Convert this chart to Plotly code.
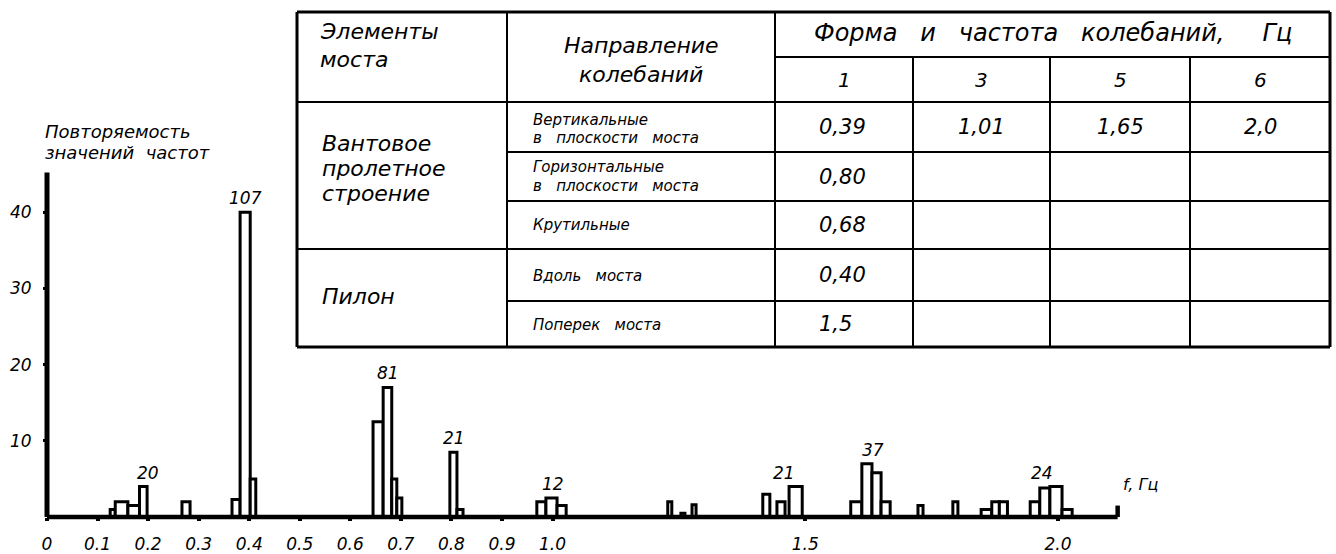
import plotly.graph_objects as go

# ---------------- data ----------------
# frequency histogram: bin edges (Hz) and repeat counts
bin_lo = [0.125, 0.135, 0.160, 0.183, 0.267, 0.366, 0.382, 0.402,
          0.645, 0.665, 0.682, 0.692, 0.797, 0.811, 0.969, 0.987, 1.009,
          1.228, 1.254, 1.276, 1.416, 1.444, 1.468, 1.590, 1.612, 1.632,
          1.650, 1.723, 1.792, 1.848, 1.869, 1.884, 1.945, 1.964, 1.984, 2.008]
bin_hi = [0.135, 0.160, 0.183, 0.198, 0.283, 0.382, 0.402, 0.413,
          0.665, 0.682, 0.692, 0.702, 0.811, 0.823, 0.987, 1.009, 1.027,
          1.236, 1.262, 1.284, 1.430, 1.460, 1.494, 1.612, 1.632, 1.650,
          1.668, 1.733, 1.802, 1.869, 1.884, 1.900, 1.964, 1.984, 2.008, 2.028]
counts = [1, 2, 1.5, 4, 2, 2.3, 40, 5,
          12.5, 17, 5, 2.5, 8.5, 1, 2, 2.5, 1.5,
          2, 0.5, 1.6, 3, 2, 4, 2, 7, 5.8,
          2, 1.5, 2, 1, 2, 2, 2, 3.8, 4, 1]

# number of records in each group of peaks
group_f = [0.2, 0.393, 0.675, 0.805, 1.0, 1.458, 1.635, 1.968]
group_n = [20, 107, 81, 21, 12, 21, 37, 24]

x_tick_vals = [0, 0.1, 0.2, 0.3, 0.4, 0.5, 0.6, 0.7, 0.8, 0.9, 1.0, 1.5, 2.0]
x_tick_text = ["0", "0.1", "0.2", "0.3", "0.4", "0.5", "0.6", "0.7", "0.8",
               "0.9", "1.0", "1.5", "2.0"]
y_tick_vals = [10, 20, 30, 40]
f_axis_end = 2.118
count_axis_end = 45.2

y_title = ["Повторяемость", "значений  частот"]
x_title = "f, Гц"

# table of natural frequencies
head_elements = ["Элементы", "моста"]
head_direction = ["Направление", "колебаний"]
head_modes = "Форма   и   частота   колебаний,     Гц"
mode_numbers = ["1", "3", "5", "6"]
elements = [["Вантовое", "пролетное", "строение"], ["Пилон"]]
directions = [["Вертикальные", "в   плоскости   моста"],
              ["Горизонтальные", "в   плоскости   моста"],
              ["Крутильные"], ["Вдоль   моста"], ["Поперек   моста"]]
freq_rows = [["0,39", "1,01", "1,65", "2,0"],
             ["0,80", "", "", ""],
             ["0,68", "", "", ""],
             ["0,40", "", "", ""],
             ["1,5", "", "", ""]]

# ---------------- layout constants ----------------
W, H = 1336, 554
FONT = "DejaVu Sans"
X0_PX, PX_PER_HZ = 47, 505.5       # f = 0 position and scale
BASE_PX, PX_PER_COUNT = 517, 7.62  # count = 0 position and scale


def px(x):
    return x / W


def py(y):
    return 1 - y / H


def txt(x, y, s, size, anchor="left"):
    return dict(x=px(x), y=py(y), xref="paper", yref="paper", text=s,
                showarrow=False, xanchor=anchor, yanchor="middle",
                font=dict(family=FONT, size=size, color="black", style="italic"))


def hline(x0, x1, y, w=2):
    return dict(type="line", xref="paper", yref="paper", x0=px(x0), x1=px(x1),
                y0=py(y), y1=py(y), line=dict(color="black", width=w))


def vline(x, y0, y1, w=2):
    return dict(type="line", xref="paper", yref="paper", x0=px(x), x1=px(x),
                y0=py(y0), y1=py(y1), line=dict(color="black", width=w))


fig = go.Figure()

centers = [(a + b) / 2 for a, b in zip(bin_lo, bin_hi)]
widths = [b - a for a, b in zip(bin_lo, bin_hi)]
fig.add_trace(go.Bar(
    x=centers, y=counts, width=widths,
    marker=dict(color="white", line=dict(color="black", width=3)),
    hoverinfo="x+y", showlegend=False,
))

shapes = []
# axes drawn as thick strokes, x axis ending with a short upturn
shapes.append(dict(type="line", xref="x", yref="y", x0=0, x1=f_axis_end, y0=0, y1=0,
                   line=dict(color="black", width=4.5)))
shapes.append(dict(type="line", xref="x", yref="y", x0=f_axis_end, x1=f_axis_end,
                   y0=0, y1=1.5, line=dict(color="black", width=4.5)))
shapes.append(dict(type="line", xref="x", yref="y", x0=0, x1=0, y0=0, y1=count_axis_end,
                   line=dict(color="black", width=5)))

# table grid
TL, TR, TT, TB = 297, 1330, 12, 347
col_x = [507, 775, 913, 1050, 1190]
row_y = [102, 152, 201, 249, 301]
SUB_Y = 57
shapes += [hline(TL, TR, TT, 3), hline(TL, TR, TB, 3),
           vline(TL, TT, TB, 3), vline(TR, TT, TB, 3)]
shapes += [vline(col_x[0], TT, TB), vline(col_x[1], TT, TB)]
shapes += [vline(x, SUB_Y, TB) for x in col_x[2:]]
shapes.append(hline(col_x[1], TR, SUB_Y))
shapes.append(hline(TL, TR, row_y[0]))
shapes.append(hline(TL, TR, row_y[3]))
shapes += [hline(col_x[0], TR, y) for y in (row_y[1], row_y[2], row_y[4])]

ann = []
# group totals above the peaks
for f, n in zip(group_f, group_n):
    top = max(c for lo, hi, c in zip(bin_lo, bin_hi, counts) if hi > f - 0.04 and lo < f + 0.04)
    ann.append(dict(x=f, y=top, xref="x", yref="y", text=str(n), showarrow=False,
                    xanchor="center", yanchor="bottom", yshift=2,
                    font=dict(family=FONT, size=17, color="black", style="italic")))

# axis titles
ann.append(txt(43, 131, y_title[0], 18))
ann.append(txt(43, 153, y_title[1], 18))
ann.append(txt(1121, 484, x_title, 16))

# table text
ann.append(txt(318, 31, head_elements[0], 22))
ann.append(txt(318, 60, head_elements[1], 22))
mid2 = (col_x[0] + col_x[1]) / 2
ann.append(txt(mid2, 45, head_direction[0], 22, "center"))
ann.append(txt(mid2, 74, head_direction[1], 22, "center"))
ann.append(txt((col_x[1] + TR) / 2, 33, head_modes, 24, "center"))
cells_x = col_x[1:] + [TR]
for i, m in enumerate(mode_numbers):
    ann.append(txt((cells_x[i] + cells_x[i + 1]) / 2, 80, m, 20, "center"))

ann += [txt(320, y, s, 22) for y, s in zip([144, 168.5, 193], elements[0])]
ann.append(txt(320, 296, elements[1][0], 22))

dir_y = [[120, 138], [167, 186], [225], [276], [325]]
for lines, ys in zip(directions, dir_y):
    ann += [txt(531, y, s, 15) for y, s in zip(ys, lines)]

row_mid = [(a + b) / 2 for a, b in zip(row_y, row_y[1:] + [TB])]
for r, vals in enumerate(freq_rows):
    for c, v in enumerate(vals):
        if not v:
            continue
        if c == 0:
            ann.append(txt(817, row_mid[r], v, 21))
        else:
            ann.append(txt((cells_x[c] + cells_x[c + 1]) / 2, row_mid[r], v, 21, "center"))

fig.update_layout(
    width=W, height=H,
    margin=dict(l=0, r=0, t=0, b=0),
    paper_bgcolor="white", plot_bgcolor="white",
    shapes=shapes, annotations=ann,
    xaxis=dict(range=[-X0_PX / PX_PER_HZ, (W - X0_PX) / PX_PER_HZ],
               anchor="free", position=1 - BASE_PX / H,
               showline=False, showgrid=False, zeroline=False,
               ticks="outside", ticklen=3, tickwidth=4, tickcolor="black",
               tickvals=x_tick_vals, ticktext=x_tick_text, ticklabelstandoff=9,
               tickfont=dict(family=FONT, size=17, color="black", style="italic")),
    yaxis=dict(range=[-(H - BASE_PX) / PX_PER_COUNT, BASE_PX / PX_PER_COUNT],
               anchor="free", position=X0_PX / W,
               showline=False, showgrid=False, zeroline=False,
               ticks="outside", ticklen=4, tickwidth=3, tickcolor="black",
               tickvals=y_tick_vals, ticklabelstandoff=8,
               tickfont=dict(family=FONT, size=17, color="black", style="italic")),
)

fig.write_html("out.html")
